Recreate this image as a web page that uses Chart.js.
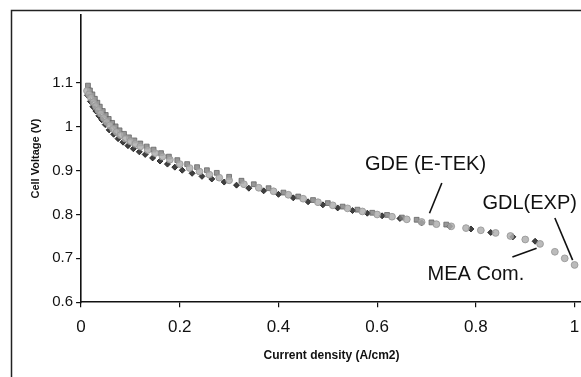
<!DOCTYPE html>
<html>
<head>
<meta charset="utf-8">
<script src="https://cdn.jsdelivr.net/npm/chart.js@4.4.1/dist/chart.umd.min.js"></script>
<style>
  html, body { margin: 0; padding: 0; background: #fff; overflow: hidden; }
  canvas { display: block; }
</style>
</head>
<body>
<canvas id="myChart" width="600" height="377"></canvas>
<script>
// GDL (EXP) - light grey points
const gdlX = [0.012, 0.016, 0.02, 0.025, 0.03, 0.035, 0.04, 0.046, 0.052, 0.058, 0.065, 0.072, 0.08, 0.09, 0.1, 0.11, 0.12, 0.135, 0.15, 0.165, 0.18, 0.2, 0.22, 0.24, 0.26, 0.28, 0.3, 0.33, 0.36, 0.39, 0.42, 0.45, 0.48, 0.51, 0.54, 0.57, 0.6, 0.63, 0.66, 0.69, 0.72, 0.75, 0.78, 0.81, 0.84, 0.87, 0.9, 0.93, 0.96, 0.98, 1.0];
const gdlY = [1.082, 1.074, 1.066, 1.056, 1.047, 1.038, 1.030, 1.020, 1.011, 1.003, 0.995, 0.988, 0.981, 0.973, 0.967, 0.961, 0.955, 0.947, 0.940, 0.932, 0.925, 0.915, 0.906, 0.898, 0.891, 0.884, 0.878, 0.869, 0.861, 0.853, 0.845, 0.836, 0.828, 0.821, 0.814, 0.807, 0.800, 0.795, 0.789, 0.783, 0.778, 0.773, 0.769, 0.764, 0.758, 0.751, 0.743, 0.733, 0.715, 0.700, 0.685];

// GDE (E-TEK) - mid grey points
const gdeX = [0.014, 0.018, 0.023, 0.028, 0.033, 0.038, 0.044, 0.05, 0.056, 0.063, 0.07, 0.078, 0.087, 0.097, 0.108, 0.12, 0.133, 0.147, 0.162, 0.178, 0.195, 0.215, 0.235, 0.255, 0.275, 0.3, 0.325, 0.35, 0.38, 0.41, 0.44, 0.47, 0.5, 0.53, 0.56, 0.59, 0.62, 0.65, 0.68, 0.71, 0.74];
const gdeY = [1.094, 1.083, 1.074, 1.064, 1.055, 1.046, 1.036, 1.027, 1.018, 1.009, 1.001, 0.992, 0.984, 0.976, 0.969, 0.962, 0.955, 0.948, 0.940, 0.932, 0.924, 0.915, 0.908, 0.901, 0.895, 0.886, 0.877, 0.869, 0.860, 0.850, 0.841, 0.833, 0.826, 0.818, 0.811, 0.804, 0.799, 0.793, 0.788, 0.782, 0.777];

// MEA Com. - dark points
const meaX = [0.013, 0.019, 0.024, 0.03, 0.036, 0.042, 0.049, 0.057, 0.066, 0.075, 0.085, 0.095, 0.106, 0.118, 0.13, 0.145, 0.16, 0.175, 0.19, 0.205, 0.225, 0.245, 0.265, 0.29, 0.315, 0.34, 0.37, 0.4, 0.43, 0.46, 0.49, 0.52, 0.55, 0.58, 0.61, 0.646, 0.69, 0.747, 0.79, 0.83, 0.875, 0.92];
const meaY = [1.072, 1.058, 1.046, 1.036, 1.025, 1.016, 1.005, 0.993, 0.983, 0.973, 0.965, 0.957, 0.950, 0.943, 0.937, 0.929, 0.922, 0.915, 0.908, 0.901, 0.894, 0.887, 0.881, 0.874, 0.867, 0.860, 0.854, 0.846, 0.838, 0.829, 0.822, 0.815, 0.809, 0.803, 0.797, 0.791, 0.781, 0.773, 0.767, 0.759, 0.749, 0.739];

const xTickValues = [0, 0.2, 0.4, 0.6, 0.8, 1];
const yTickValues = [0.6, 0.7, 0.8, 0.9, 1, 1.1];

const FONT = '"Liberation Sans", Arial, sans-serif';

// text labels with leader lines, in data units
const callouts = [
  { text: 'GDE (E-TEK)', tx: 0.698, ty: 0.913, from: [0.731, 0.872], to: [0.706, 0.803] },
  { text: 'GDL(EXP)', tx: 0.909, ty: 0.826, from: [0.960, 0.792], to: [0.996, 0.696] },
  { text: 'MEA Com.', tx: 0.800, ty: 0.664, from: [0.874, 0.703], to: [0.923, 0.723] }
];

const toPoints = (xs, ys) => xs.map((x, i) => ({ x: x, y: ys[i] }));

const framePlugin = {
  id: 'frame',
  beforeDraw(chart) {
    const ctx = chart.ctx;
    ctx.save();
    ctx.strokeStyle = '#222';
    ctx.lineWidth = 1.5;
    ctx.strokeRect(11.5, 10.5, 800, 600);
    ctx.restore();
  }
};

const calloutPlugin = {
  id: 'callouts',
  afterDatasetsDraw(chart) {
    const ctx = chart.ctx;
    const xs = chart.scales.x, ys = chart.scales.y;
    ctx.save();
    ctx.fillStyle = '#111';
    ctx.strokeStyle = '#111';
    ctx.lineWidth = 1.6;
    ctx.font = '20px ' + FONT;
    ctx.textAlign = 'center';
    ctx.textBaseline = 'middle';
    callouts.forEach(c => {
      ctx.fillText(c.text, xs.getPixelForValue(c.tx), ys.getPixelForValue(c.ty));
      ctx.beginPath();
      ctx.moveTo(xs.getPixelForValue(c.from[0]), ys.getPixelForValue(c.from[1]));
      ctx.lineTo(xs.getPixelForValue(c.to[0]), ys.getPixelForValue(c.to[1]));
      ctx.stroke();
    });
    ctx.restore();
  }
};

const fmt = v => String(Math.round(v * 10) / 10);

new Chart(document.getElementById('myChart').getContext('2d'), {
  type: 'scatter',
  data: {
    datasets: [
      {
        label: 'GDL(EXP)',
        data: toPoints(gdlX, gdlY),
        pointStyle: 'circle',
        pointRadius: 3.4,
        backgroundColor: 'rgba(175,175,175,0.85)',
        borderColor: 'rgba(150,150,150,0.85)',
        borderWidth: 1
      },
      {
        label: 'GDE (E-TEK)',
        data: toPoints(gdeX, gdeY),
        pointStyle: 'rect',
        pointRadius: 3.4,
        backgroundColor: 'rgba(125,125,125,0.8)',
        borderColor: 'rgba(100,100,100,0.8)',
        borderWidth: 1
      },
      {
        label: 'MEA Com.',
        data: toPoints(meaX, meaY),
        pointStyle: 'rectRot',
        pointRadius: 3,
        backgroundColor: 'rgba(30,30,30,0.85)',
        borderColor: 'rgba(30,30,30,0.85)',
        borderWidth: 1
      }
    ]
  },
  options: {
    responsive: false,
    animation: false,
    layout: { padding: { left: 17, right: 18, top: 15, bottom: 10 } },
    plugins: {
      legend: { display: false },
      tooltip: { enabled: false }
    },
    scales: {
      x: {
        type: 'linear',
        min: 0,
        max: 1.015,
        afterBuildTicks: s => { s.ticks = xTickValues.map(v => ({ value: v })); },
        border: { display: true, color: '#111', width: 1.6 },
        grid: { drawOnChartArea: false, drawTicks: true, tickLength: 5, color: '#111', lineWidth: 1.2 },
        ticks: {
          padding: 10,
          maxRotation: 0,
          color: '#111',
          font: { family: FONT, size: 17 },
          callback: v => fmt(v)
        },
        title: {
          display: true,
          text: 'Current density (A/cm2)',
          color: '#111',
          font: { family: FONT, size: 12, weight: 'bold' },
          padding: { top: 1, bottom: 4 }
        }
      },
      y: {
        type: 'linear',
        min: 0.6,
        max: 1.255,
        afterBuildTicks: s => { s.ticks = yTickValues.map(v => ({ value: v })); },
        border: { display: true, color: '#111', width: 1.6 },
        grid: { drawOnChartArea: false, drawTicks: true, tickLength: 5, color: '#111', lineWidth: 1.2 },
        ticks: {
          padding: 3,
          color: '#111',
          font: { family: FONT, size: 15 },
          callback: v => fmt(v)
        },
        title: {
          display: true,
          text: 'Cell Voltage (V)',
          color: '#111',
          font: { family: FONT, size: 11, weight: 'bold' },
          padding: { top: 12, bottom: 7 }
        }
      }
    }
  },
  plugins: [framePlugin, calloutPlugin]
});
</script>
</body>
</html>
